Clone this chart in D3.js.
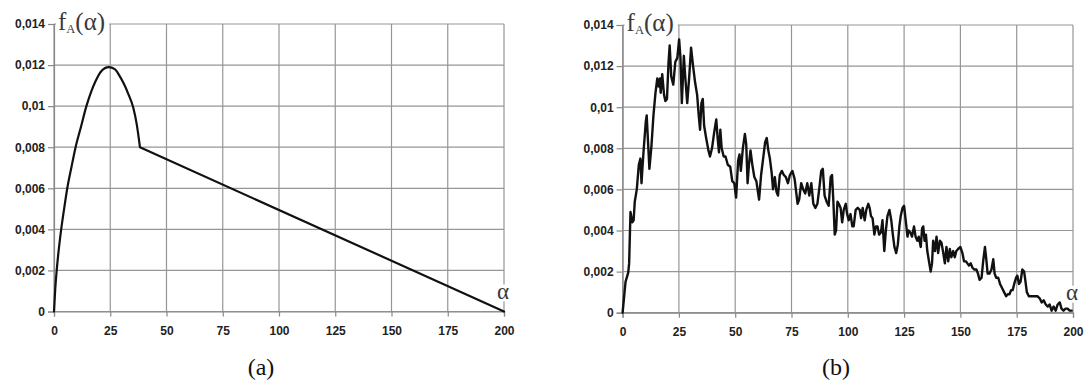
<!DOCTYPE html>
<html>
<head>
<meta charset="utf-8">
<script src="https://cdn.jsdelivr.net/npm/d3@7"></script>
<style>
  html, body { margin: 0; padding: 0; background: #ffffff; }
  svg { display: block; }
  .tick text { font-family: "Liberation Sans", Arial, sans-serif; font-weight: bold; font-size: 12px; fill: #222; }
  .serif { font-family: "Liberation Serif", "Times New Roman", serif; }
</style>
</head>
<body>
<svg id="chart" width="1086" height="383"></svg>
<script>
// Shared axes
const xTicks = [0, 25, 50, 75, 100, 125, 150, 175, 200];
const yTicks = [0, 0.002, 0.004, 0.006, 0.008, 0.01, 0.012, 0.014];
const yTickLabels = ["0", "0,002", "0,004", "0,006", "0,008", "0,01", "0,012", "0,014"];

// (a) model density: smooth rise to a peak, then a straight fall to zero
const alphaA = [0, 0.5, 1.2, 2, 3.2, 4.5, 5.9, 7.7, 9.6, 12, 14.4, 16.5, 18.4, 21, 24.3, 27, 29, 31, 33, 35.3, 36.8, 38.2, 200];
const fA = [0, 0.001, 0.002, 0.0029, 0.004, 0.005, 0.006, 0.007, 0.008, 0.009, 0.01, 0.0107, 0.0112, 0.0117, 0.0119, 0.0118, 0.0115, 0.0111, 0.0106, 0.0099, 0.0091, 0.008, 0];
const kinkA = 38.2;

// (b) measured density
const alphaB = [0, 0.7, 1.3, 2.5, 2.9, 3.5, 4.3, 4.9, 5.4, 6.3, 7.2, 7.9, 8.4, 8.9, 9.4, 10.3, 10.7, 11.3, 11.9, 12.8,
  13.7, 14.6, 15.4, 16.0, 16.6, 16.9, 17.6, 18.4, 19.0, 19.7, 20.4, 20.9, 21.6, 22.5, 23.4, 24.3, 25.1, 25.7, 26.3, 27.2,
  27.8, 28.7, 29.6, 30.4, 31.3, 32.2, 33.1, 33.8, 34.4, 35.0, 35.6, 36.2, 37.1, 38.1, 38.8, 39.7, 40.7, 41.6, 42.2, 42.8,
  43.4, 44.0, 44.9, 45.7, 46.7, 47.8, 48.7, 49.6, 50.4, 51.3, 51.9, 52.5, 53.4, 54.3, 54.9, 55.5, 56.1, 56.8, 57.6, 58.5,
  59.4, 60.6, 61.5, 62.4, 63.3, 64.0, 64.7, 65.4, 66.2, 66.8, 67.6, 68.3, 69.0, 69.8, 70.7, 71.6, 72.5, 73.4, 74.3, 75.4,
  76.4, 77.7, 78.4, 79.3, 80.2, 81.1, 82.0, 82.9, 83.8, 84.7, 85.6, 86.5, 87.4, 88.2, 88.9, 89.7, 90.6, 91.5, 92.4, 93.0,
  93.6, 94.2, 94.8, 95.4, 96.0, 96.8, 97.5, 98.2, 99.1, 99.7, 100.4, 101.2, 102.0, 102.6, 103.5, 104.4, 105.3, 105.9, 106.6, 107.5,
  108.2, 109.1, 109.7, 110.3, 111.0, 111.8, 112.5, 113.2, 113.9, 114.7, 115.4, 116.2, 116.9, 117.6, 118.5, 119.3, 120.0, 120.7, 121.5, 122.2,
  122.9, 123.5, 124.3, 125.0, 125.7, 126.5, 127.0, 127.8, 128.5, 129.4, 130.1, 130.9, 131.5, 132.4, 133.0, 133.5, 134.1, 134.7, 135.3, 136.2,
  136.8, 137.4, 137.9, 138.7, 139.4, 140.1, 140.9, 141.6, 142.4, 143.1, 143.8, 144.6, 145.3, 146.0, 146.8, 147.5, 148.2, 149.0, 150.0, 150.9,
  151.6, 152.4, 153.1, 153.8, 154.6, 155.3, 156.2, 157.1, 157.8, 158.5, 159.4, 160.1, 160.9, 161.5, 162.1, 162.9, 163.8, 164.6, 165.2, 165.9,
  166.8, 167.6, 168.5, 169.4, 170.3, 171.0, 171.8, 172.5, 173.2, 173.9, 174.7, 175.3, 176.0, 176.7, 177.5, 178.3, 178.8, 179.5, 180.4, 181.4,
  182.4, 183.3, 184.2, 185.2, 186.1, 187.0, 187.9, 188.8, 189.6, 190.5, 191.4, 192.3, 193.2, 194.1, 194.9, 195.8, 196.7, 197.6, 198.5, 199.4];
const fB = [0, 0.0008, 0.0015, 0.00195, 0.0024, 0.0049, 0.0044, 0.0045, 0.0054, 0.006, 0.0072, 0.0075, 0.0063, 0.0072, 0.008, 0.0093, 0.0096, 0.0083, 0.007, 0.0081,
  0.0096, 0.0107, 0.0114, 0.011, 0.0114, 0.0107, 0.0116, 0.0106, 0.0103, 0.0104, 0.0122, 0.013, 0.0115, 0.0111, 0.0122, 0.0124, 0.0133, 0.0124, 0.0102, 0.0125,
  0.0115, 0.0102, 0.0115, 0.0129, 0.012, 0.0112, 0.0106, 0.0096, 0.0089, 0.0102, 0.0104, 0.0091, 0.0085, 0.0079, 0.0076, 0.008, 0.0088, 0.0094, 0.0085, 0.0078,
  0.0089, 0.008, 0.0076, 0.0076, 0.0072, 0.0071, 0.0064, 0.0063, 0.0056, 0.0074, 0.0077, 0.0069, 0.008, 0.0087, 0.0082, 0.0063, 0.0072, 0.0079, 0.0072, 0.0066,
  0.0064, 0.0055, 0.0067, 0.0075, 0.0083, 0.0085, 0.0079, 0.0075, 0.0068, 0.006, 0.0066, 0.0059, 0.0057, 0.0067, 0.0069, 0.0067, 0.0066, 0.0063, 0.0067, 0.0069,
  0.0065, 0.0053, 0.0055, 0.0063, 0.006, 0.0058, 0.0063, 0.0057, 0.0063, 0.0053, 0.0051, 0.0053, 0.0061, 0.0069, 0.007, 0.0057, 0.0054, 0.0052, 0.0066, 0.0067,
  0.0054, 0.0038, 0.004, 0.0054, 0.0053, 0.0051, 0.0044, 0.005, 0.0053, 0.0048, 0.0045, 0.0048, 0.0042, 0.0042, 0.005, 0.0051, 0.005, 0.0046, 0.0051, 0.0045,
  0.005, 0.0053, 0.0051, 0.0047, 0.0046, 0.0038, 0.0042, 0.0042, 0.0038, 0.0039, 0.0045, 0.003, 0.004, 0.0047, 0.005, 0.0045, 0.0038, 0.0032, 0.0029, 0.0033,
  0.0042, 0.0047, 0.0051, 0.0052, 0.0045, 0.0037, 0.004, 0.0039, 0.0037, 0.0042, 0.0037, 0.0035, 0.0037, 0.0032, 0.0041, 0.0042, 0.0035, 0.0038, 0.003, 0.0024,
  0.002, 0.0024, 0.0035, 0.003, 0.0037, 0.0029, 0.0035, 0.0034, 0.0029, 0.0024, 0.0032, 0.0025, 0.0031, 0.0027, 0.003, 0.0027, 0.003, 0.0031, 0.0032, 0.0029,
  0.0025, 0.0025, 0.0024, 0.0023, 0.0024, 0.0022, 0.0021, 0.0021, 0.0019, 0.0016, 0.0017, 0.0025, 0.0032, 0.0026, 0.0019, 0.0019, 0.0021, 0.0026, 0.0019, 0.0017,
  0.0017, 0.0014, 0.0012, 0.001, 0.0008, 0.0009, 0.0009, 0.0011, 0.0011, 0.0014, 0.0017, 0.0018, 0.0014, 0.0015, 0.0021, 0.002, 0.0016, 0.001, 0.0008, 0.0008,
  0.0008, 0.0008, 0.0008, 0.0007, 0.0005, 0.0006, 0.0004, 0.0003, 0.0004, 0.0001, 0.0003, 0.0001, 0.0004, 0.0005, 0.0002, 0.0001, 0.0002, 0.0002, 0.0001, 0.0001];

const svg = d3.select("#chart");

function panel(opts) {
  const x = d3.scaleLinear().domain([0, 200]).range([opts.left, opts.right]);
  const y = d3.scaleLinear().domain([0, 0.014]).range([opts.bottom, opts.top]);
  const g = svg.append("g");

  // grid
  g.append("g").selectAll("line").data(yTicks).join("line")
    .attr("x1", opts.left).attr("x2", opts.right)
    .attr("y1", d => y(d)).attr("y2", d => y(d))
    .attr("stroke", "#969696").attr("stroke-width", 1.2);
  g.append("g").selectAll("line").data(xTicks).join("line")
    .attr("x1", d => x(d)).attr("x2", d => x(d))
    .attr("y1", opts.top).attr("y2", opts.bottom)
    .attr("stroke", "#969696").attr("stroke-width", 1.2);

  // axes
  const ay = g.append("g").attr("transform", `translate(${opts.left},0)`)
    .call(d3.axisLeft(y).tickValues(yTicks).tickSize(6).tickPadding(3)
      .tickFormat((d, i) => yTickLabels[i]));
  const ax = g.append("g").attr("transform", `translate(0,${opts.bottom})`)
    .call(d3.axisBottom(x).tickValues(xTicks).tickSize(5).tickPadding(10)
      .tickFormat(d3.format("d")));
  [ay, ax].forEach(a => {
    a.selectAll(".domain").attr("stroke", "#888").attr("stroke-width", 1.2);
    a.selectAll(".tick line").attr("stroke", "#888").attr("stroke-width", 1.2);
  });

  // series
  g.append("path").attr("d", opts.path(x, y))
    .attr("fill", "none").attr("stroke", "#111").attr("stroke-width", opts.lineWidth)
    .attr("stroke-linejoin", "round").attr("stroke-linecap", "round");

  // f_A(α) label on a white box over the top grid line
  const lbl = g.append("g");
  lbl.append("rect").attr("x", opts.left + 2).attr("y", opts.top - 17)
    .attr("width", 53).attr("height", 27).attr("fill", "#fff");
  const t = lbl.append("text").attr("class", "serif")
    .attr("x", opts.left + 4).attr("y", opts.top + 5.5)
    .attr("font-size", 25).attr("fill", "#3a3a3a");
  t.append("tspan").text("f");
  t.append("tspan").attr("font-size", 12.5).attr("dy", 3).text("A");
  t.append("tspan").attr("dy", -3).text("(α)");

  // α label at the end of the abscissa
  g.append("rect").attr("x", opts.right - 7).attr("y", opts.bottom - 27)
    .attr("width", 14).attr("height", 17).attr("fill", "#fff");
  g.append("text").attr("class", "serif")
    .attr("x", opts.right - 1).attr("y", opts.bottom - 13)
    .attr("text-anchor", "middle").attr("font-size", 23).attr("fill", "#3a3a3a")
    .text("α");

  // caption
  g.append("text").attr("class", "serif")
    .attr("x", opts.captionX).attr("y", 375)
    .attr("text-anchor", "middle").attr("font-size", 24).attr("fill", "#111")
    .text(opts.caption);
}

panel({
  left: 54, right: 504, top: 24, bottom: 311.5, captionX: 261, caption: "(a)", lineWidth: 2.2,
  path: (x, y) => {
    const pts = alphaA.map((a, i) => [x(a), y(fA[i])]);
    const k = alphaA.indexOf(kinkA);
    const rise = d3.line().curve(d3.curveMonotoneX)(pts.slice(0, k + 1));
    const fall = pts.slice(k + 1).map(p => `L${p[0]},${p[1]}`).join("");
    return rise + fall;
  }
});

panel({
  left: 622.6, right: 1073, top: 25, bottom: 312.7, captionX: 836, caption: "(b)", lineWidth: 2.4,
  path: (x, y) => d3.line().x((d, i) => x(alphaB[i])).y((d, i) => y(fB[i]))(fB)
});
</script>
</body>
</html>
